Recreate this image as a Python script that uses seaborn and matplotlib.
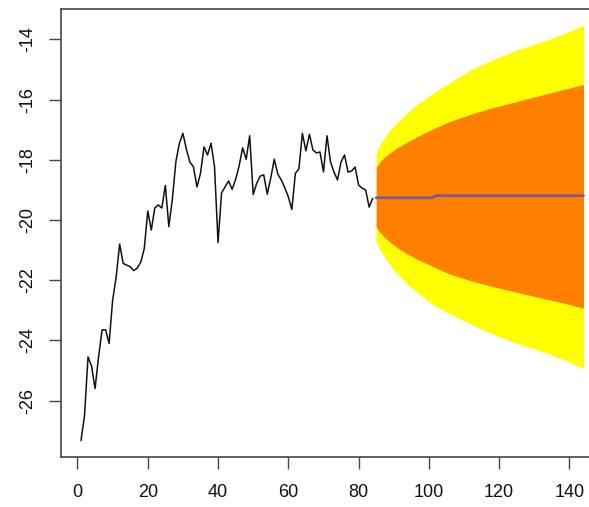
import matplotlib
matplotlib.use("Agg")
import matplotlib.pyplot as plt
import seaborn as sns
import pandas as pd

# Observed series (time index 1..84)
obs_values = [
    -27.33, -26.50, -24.55, -24.85, -25.60, -24.55, -23.65, -23.65, -24.10, -22.66,
    -21.90, -20.80, -21.44, -21.50, -21.55, -21.68, -21.60, -21.40, -20.95, -19.70,
    -20.33, -19.60, -19.50, -19.60, -18.85, -20.22, -19.30, -18.06, -17.45, -17.12,
    -17.65, -18.08, -18.23, -18.90, -18.45, -17.57, -17.84, -17.45, -18.23, -20.75,
    -19.10, -18.90, -18.70, -18.98, -18.65, -18.20, -17.60, -17.98, -17.20, -19.15,
    -18.78, -18.54, -18.50, -19.14, -18.60, -17.98, -18.47, -18.67, -18.93, -19.23,
    -19.65, -18.45, -18.30, -17.12, -17.70, -17.15, -17.67, -17.77, -17.74, -18.40,
    -17.20, -18.07, -18.41, -18.67, -18.07, -17.84, -18.41, -18.37, -18.24, -18.84,
    -18.94, -19.00, -19.57, -19.28,
]
obs_time = list(range(1, len(obs_values) + 1))

# Point forecast
mean_time = [85, 101, 102, 144]
mean_values = [-19.26, -19.26, -19.19, -19.19]

# Prediction interval limits at selected horizons
band_time = [85, 86, 87, 89, 91, 94, 97, 101, 106, 112, 118, 125, 132, 138, 144]
upper95 = [-17.78, -17.52, -17.32, -17.00, -16.75, -16.42, -16.12, -15.80,
           -15.43, -15.00, -14.68, -14.35, -14.08, -13.83, -13.53]
lower95 = [-20.72, -20.98, -21.17, -21.50, -21.78, -22.15, -22.44, -22.80,
           -23.12, -23.46, -23.78, -24.10, -24.36, -24.62, -24.93]
upper80 = [-18.25, -18.08, -17.95, -17.76, -17.60, -17.40, -17.21, -16.98,
           -16.72, -16.48, -16.27, -16.06, -15.85, -15.67, -15.50]
lower80 = [-20.22, -20.40, -20.53, -20.74, -20.92, -21.14, -21.32, -21.54,
           -21.80, -22.02, -22.21, -22.40, -22.59, -22.75, -22.93]

x_ticks = [0, 20, 40, 60, 80, 100, 120, 140]
y_ticks = [-26, -24, -22, -20, -18, -16, -14]

sns.set_theme(style="white")
plt.rcParams["font.family"] = ["Liberation Sans", "DejaVu Sans"]

obs = pd.DataFrame({"t": obs_time, "y": obs_values})
fc = pd.DataFrame({"t": mean_time, "y": mean_values})

fig = plt.figure(figsize=(5.89, 5.07), dpi=100)
ax = fig.add_axes([0.1034, 0.0982, 0.9214, 0.8846])

ax.fill_between(band_time, lower95, upper95, color="#FFFF00", lw=0, zorder=1)
ax.fill_between(band_time, lower80, upper80, color="#FF8000", lw=0, zorder=2)

sns.lineplot(data=obs, x="t", y="y", color="#111111", lw=1.1,
             estimator=None, sort=False, ax=ax, zorder=3)
sns.lineplot(data=fc, x="t", y="y", color="#7a5b9a", lw=2.0,
             estimator=None, sort=False, ax=ax, zorder=4)

# R-style 4% padding of the data range
xmin, xmax = min(obs_time), max(band_time)
ymin = min(min(obs_values), min(lower95))
ymax = max(max(obs_values), max(upper95))
xpad = 0.04 * (xmax - xmin)
ypad = 0.04 * (ymax - ymin)
ax.set_xlim(xmin - xpad, xmax + xpad)
ax.set_ylim(ymin - ypad, ymax + ypad)

ax.set_xticks(x_ticks)
ax.set_yticks(y_ticks)
ax.set_xticklabels([str(v) for v in x_ticks])
ax.set_yticklabels([str(v) for v in y_ticks], rotation=90, va="center")
ax.tick_params(axis="both", which="major", direction="out", length=8.6,
               width=1.0, color="#444444", labelsize=13, labelcolor="#111111",
               bottom=True, left=True, top=False, right=False)
ax.tick_params(axis="x", pad=10.5)
ax.tick_params(axis="y", pad=9.5)
ax.set_xlabel("")
ax.set_ylabel("")
for s in ax.spines.values():
    s.set_visible(True)
    s.set_color("#444444")
    s.set_linewidth(1.2)
ax.grid(False)

fig.savefig("out.png", dpi=100)
